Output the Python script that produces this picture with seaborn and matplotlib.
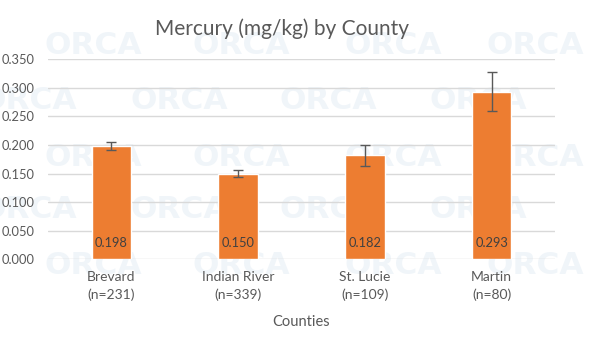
import matplotlib
matplotlib.use("Agg")
import matplotlib.pyplot as plt
import seaborn as sns
import pandas as pd

# Mean mercury concentration per county, with error bar half-widths
counties = ["Brevard", "Indian River", "St. Lucie", "Martin"]
sample_sizes = [231, 339, 109, 80]
mercury = [0.198, 0.150, 0.182, 0.293]
errors = [0.007, 0.006, 0.018, 0.034]
y_ticks = [0.000, 0.050, 0.100, 0.150, 0.200, 0.250, 0.300, 0.350]

sns.set_theme(style="white")
plt.rcParams["font.family"] = ["Lato", "DejaVu Sans"]

labels = [f"{c}\n(n={n})" for c, n in zip(counties, sample_sizes)]
df = pd.DataFrame({"county": labels, "mercury": mercury})

fig = plt.figure(figsize=(6, 3.42), dpi=100)
fig.patch.set_facecolor("white")
ax = fig.add_axes([0.08, 0.2418, 0.845, 0.5848])
ax.set_facecolor("none")

# faint repeating logo watermark in the background
wm_rows_a = [46, 158, 266]
wm_rows_b = [101, 210]
for yy in wm_rows_a:
    for xx in [93, 241, 393, 535]:
        fig.text(xx / 600, 1 - yy / 342, "ORCA", ha="center", va="center",
                 fontsize=22.5, fontweight="bold", color="#dce8f2", alpha=0.42,
                 family="DejaVu Sans", zorder=-1)
for yy in wm_rows_b:
    for xx in [28, 179, 328, 478]:
        fig.text(xx / 600, 1 - yy / 342, "ORCA", ha="center", va="center",
                 fontsize=22.5, fontweight="bold", color="#dce8f2", alpha=0.42,
                 family="DejaVu Sans", zorder=-1)

sns.barplot(data=df, x="county", y="mercury", color="#ED7D31", saturation=1,
            width=0.31, errorbar=None, ax=ax, zorder=3)
ax.errorbar(range(len(mercury)), mercury, yerr=errors, fmt="none",
            ecolor="#595959", elinewidth=1.0, capsize=3.3, capthick=1.0, zorder=4)

for i, v in enumerate(mercury):
    ax.annotate(f"{v:.3f}", (i, 0), xytext=(0, 11.5), textcoords="offset points",
                ha="center", va="center", fontsize=9.3, color="#404040", zorder=5)

ax.set_ylim(0, 0.35)
ax.set_xlim(-0.5, len(counties) - 0.5)
ax.set_yticks(y_ticks)
ax.set_yticklabels([f"{t:.3f}" for t in y_ticks])
ax.yaxis.grid(True, color="#d9d9d9", linewidth=1.0, zorder=0)
ax.set_axisbelow(True)
for s in ax.spines.values():
    s.set_visible(False)
ax.tick_params(axis="y", length=0, pad=9.5, labelsize=9.3, labelcolor="#595959")
ax.tick_params(axis="x", length=0, pad=8.5, labelsize=10, labelcolor="#595959")
for t in ax.get_xticklabels():
    t.set_linespacing(1.5)
ax.set_ylabel("")
ax.set_xlabel("Counties", fontsize=10.5, color="#595959", labelpad=10)

fig.text(282 / 600, 1 - 29 / 342, "Mercury (mg/kg) by County", ha="center",
         va="center", fontsize=15, color="#595959")

fig.savefig("out.png", dpi=100, facecolor="white")
